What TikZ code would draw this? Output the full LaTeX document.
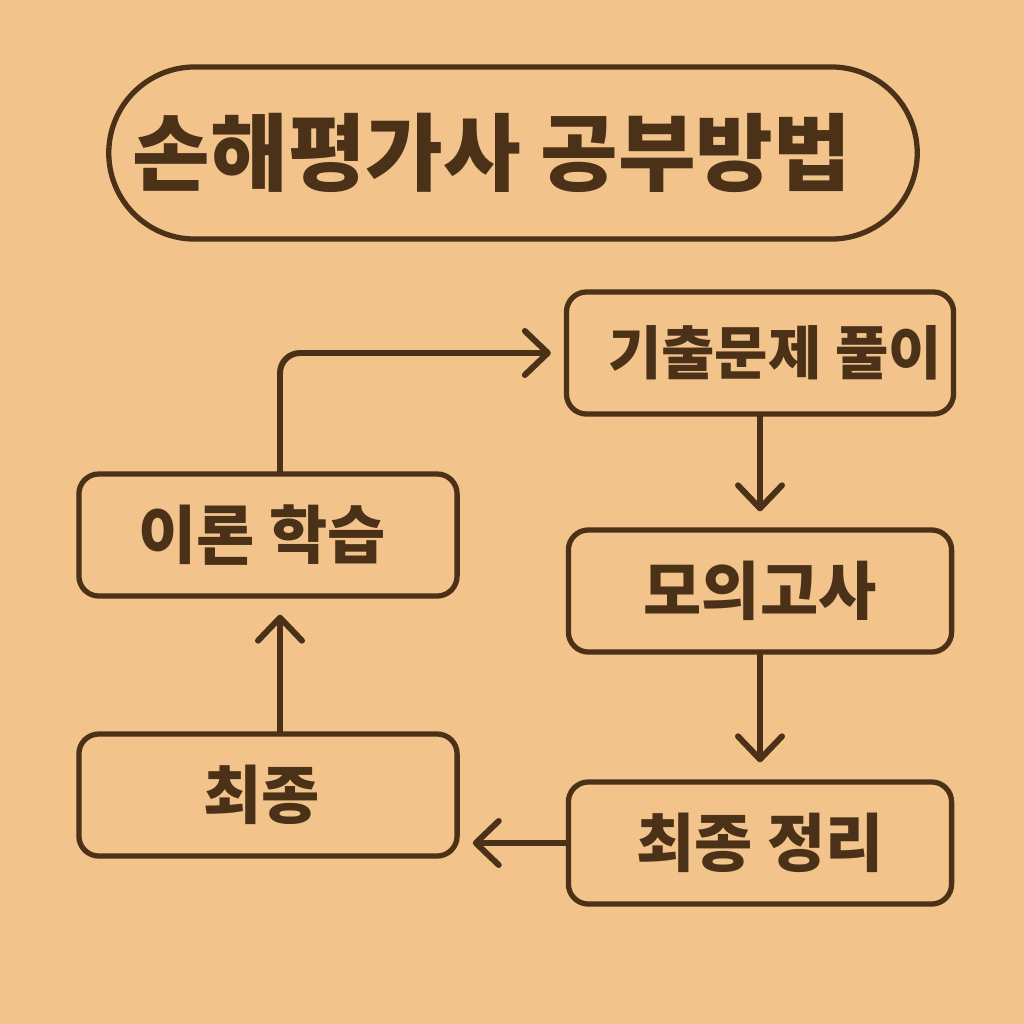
\documentclass[tikz,border=0pt]{standalone}
\usepackage{fontspec}
\setmainfont{Noto Sans CJK KR}
\usetikzlibrary{arrows.meta, positioning}
\definecolor{paper}{HTML}{F2C48C}
\definecolor{ink}{HTML}{4A3118}
\tikzset{
    box/.style={draw=ink, line width=1.5pt, rounded corners=0.2cm, minimum width=3.83cm, minimum height=1.22cm, align=center, text=ink, font=\fontsize{18}{20}\selectfont\bfseries},
    titlebox/.style={draw=ink, line width=1.5pt, rounded corners=0.86cm, minimum width=8.08cm, minimum height=1.72cm, text=ink, font=\fontsize{24}{26}\selectfont\bfseries},
    arrow/.style={-{Straight Barb[length=2.3mm, width=4.4mm, round]}, line width=1.7pt, ink, line cap=round}
}

\begin{document}
\begin{tikzpicture}[x=0.01cm, y=-0.01cm]
        \fill[paper] (0,0) rectangle (1024,1024);
        \node [titlebox] (title) at (513,153) {손해평가사 공부방법\hspace*{0.42cm}};
        \node [box, font=\fontsize{16.5}{18}\selectfont\bfseries] (past) at (760,353) {\hspace{0.3cm}기출문제 풀이};
        \node [box] (mock) at (760,591) {모의고사};
        \node [box] (review) at (760,843) {최종 정리};
        \node [box, minimum width=3.78cm] (theory) at (268,535) {이론 학습\hspace{0.12cm}};
        \node [box, minimum width=3.78cm] (final) at (268,795) {최종\hspace{0.12cm}};
        \draw [arrow, rounded corners=0.2cm, shorten >=0.13cm] ([xshift=0.12cm]theory.north) |- (past.west);
        \draw [arrow, shorten >=0.16cm] (past.south) -- (mock.north);
        \draw [arrow, shorten >=0.17cm] (mock.south) -- (review.north);
        \draw [arrow, shorten >=0.13cm] (review.west) -- (review.west -| final.east);
        \draw [arrow, shorten >=0.16cm] ([xshift=0.12cm]final.north) -- ([xshift=0.12cm]theory.south);
    \end{tikzpicture}
\end{document}
